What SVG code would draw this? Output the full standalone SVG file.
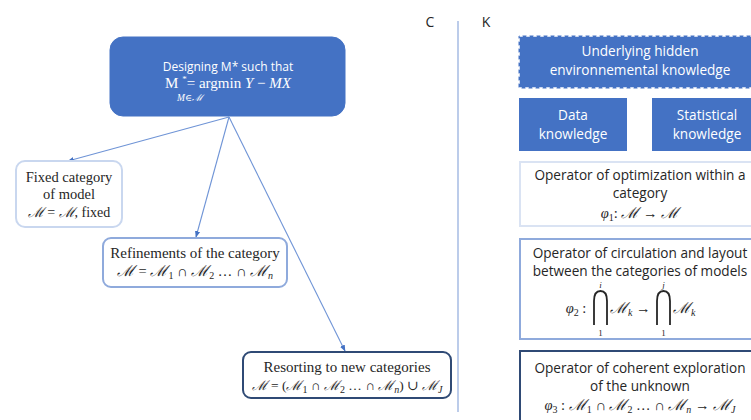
<svg xmlns="http://www.w3.org/2000/svg" width="751" height="420" viewBox="0 0 751 420">
<defs>
<marker id="ah" viewBox="0 0 10 10" refX="9" refY="5" markerWidth="6" markerHeight="6" orient="auto">
<path d="M0,1 L10,5 L0,9 z" fill="#4472C4"/>
</marker>
</defs>
<style>
.sans{font-family:"Open Sans","Noto Sans","DejaVu Sans",sans-serif;}
.serif{font-family:"Liberation Serif","DejaVu Serif",serif;}
.math{font-family:"Liberation Serif","DejaVu Serif",serif;font-style:italic;}
.scr{font-family:"DejaVu Serif","Liberation Serif",serif;font-style:italic;font-size:1.05em;}
.scr1{font-size:1em;}
.blue{fill:#4472C4;}
.wt{fill:#ffffff;}
.dk{fill:#262626;}
.conn{stroke:#6F94D6;stroke-width:1.1;fill:none;marker-end:url(#ah);}
</style>
<rect width="751" height="420" fill="#ffffff"/>

<g id="labels">
<text x="430" y="27" class="sans dk" font-size="14" text-anchor="middle">C</text>
<text x="486" y="27" class="sans dk" font-size="14" text-anchor="middle">K</text>
<line x1="458" y1="21" x2="458" y2="412" stroke="#8FAADC" stroke-width="1.2"/>
</g>

<g id="connectors">
<line class="conn" x1="229" y1="117" x2="68" y2="161"/>
<line class="conn" x1="229" y1="117" x2="196" y2="237"/>
<line class="conn" x1="229" y1="117" x2="345" y2="351"/>
</g>

<g id="design">
<rect x="110" y="37" width="235" height="79" rx="13" class="blue" stroke="#4472C4"/>
<text x="228" y="71" class="sans wt" font-size="12" text-anchor="middle">Designing M* such that</text>
<text x="228" y="88" class="serif wt" font-size="15" text-anchor="middle">M <tspan font-size="9" dy="-6">*</tspan><tspan dy="6">= argmin </tspan><tspan font-style="italic">Y</tspan> − <tspan font-style="italic">MX</tspan></text>
<text x="190" y="101" class="math wt" font-size="9.5" text-anchor="middle">M∈ℳ</text>
</g>

<g id="fixed">
<rect x="16" y="161" width="106" height="66" rx="9" fill="#ffffff" stroke="#C9D7EF" stroke-width="2"/>
<text x="69" y="182" class="serif dk" font-size="14.5" text-anchor="middle">Fixed category</text>
<text x="69" y="199" class="serif dk" font-size="14.5" text-anchor="middle">of model</text>
<text x="69" y="217" class="serif dk" font-size="14" text-anchor="middle"><tspan class="scr scr1">ℳ</tspan> = <tspan class="scr scr1">ℳ</tspan>, fixed</text>
</g>

<g id="refinements">
<rect x="103" y="238" width="184" height="49" rx="8" fill="#ffffff" stroke="#8FAADC" stroke-width="2"/>
<text x="195" y="258" class="serif dk" font-size="15" text-anchor="middle">Refinements of the category</text>
<text x="195" y="276" class="serif dk" font-size="14.5" text-anchor="middle"><tspan class="scr">ℳ</tspan> = <tspan class="scr">ℳ</tspan><tspan font-size="10" dy="3">1</tspan><tspan dy="-3"> ∩ </tspan><tspan class="scr">ℳ</tspan><tspan font-size="10" dy="3">2</tspan><tspan dy="-3"> … ∩ </tspan><tspan class="scr">ℳ</tspan><tspan font-size="10" dy="3" font-style="italic">n</tspan></text>
</g>

<g id="resorting">
<rect x="243" y="352" width="208" height="46" rx="8" fill="#ffffff" stroke="#2F4A75" stroke-width="2"/>
<text x="347" y="372" class="serif dk" font-size="15" text-anchor="middle">Resorting to new categories</text>
<text x="347" y="390" class="serif dk" font-size="13.5" text-anchor="middle"><tspan class="scr scr1">ℳ</tspan> = (<tspan class="scr scr1">ℳ</tspan><tspan font-size="10" dy="3">1</tspan><tspan dy="-3"> ∩ </tspan><tspan class="scr scr1">ℳ</tspan><tspan font-size="10" dy="3">2</tspan><tspan dy="-3"> … ∩ </tspan><tspan class="scr scr1">ℳ</tspan><tspan font-size="10" dy="3" font-style="italic">n</tspan><tspan dy="-3">) ∪ </tspan><tspan class="scr scr1">ℳ</tspan><tspan font-size="10" dy="3" font-style="italic">J</tspan></text>
</g>

<g id="hidden">
<rect x="519" y="36" width="245" height="52" class="blue" stroke="#ffffff" stroke-width="1.5" stroke-dasharray="4,3"/>
<rect x="519" y="36" width="245" height="52" fill="none" stroke="#4472C4" stroke-width="1" stroke-dasharray="4,3" stroke-dashoffset="3.5"/>
<text x="640" y="56" class="sans wt" font-size="13.6" text-anchor="middle">Underlying hidden</text>
<text x="640" y="75" class="sans wt" font-size="13.6" text-anchor="middle">environnemental knowledge</text>
</g>

<g id="data">
<rect x="519" y="98" width="108" height="53" class="blue"/>
<text x="573" y="120" class="sans wt" font-size="13.6" text-anchor="middle">Data</text>
<text x="573" y="139" class="sans wt" font-size="13.6" text-anchor="middle">knowledge</text>
</g>

<g id="statistical">
<rect x="652" y="98" width="110" height="53" class="blue"/>
<text x="707" y="120" class="sans wt" font-size="13.6" text-anchor="middle">Statistical</text>
<text x="707" y="139" class="sans wt" font-size="13.6" text-anchor="middle">knowledge</text>
</g>

<g id="optimization">
<rect x="520" y="162" width="245" height="64" fill="#ffffff" stroke="#DAE3F3" stroke-width="2"/>
<text x="640" y="180" class="sans dk" font-size="13.6" text-anchor="middle">Operator of optimization within a</text>
<text x="640" y="198" class="sans dk" font-size="13.6" text-anchor="middle">category</text>
<text x="640" y="218" class="serif dk" font-size="14.5" text-anchor="middle"><tspan font-style="italic">φ</tspan><tspan font-size="10" dy="3">1</tspan><tspan dy="-3">: </tspan><tspan class="scr">ℳ</tspan> → <tspan class="scr">ℳ</tspan></text>
</g>

<g id="circulation">
<rect x="520" y="239" width="245" height="100" fill="#ffffff" stroke="#8FAADC" stroke-width="2"/>
<text x="640" y="258" class="sans dk" font-size="13.6" text-anchor="middle">Operator of circulation and layout</text>
<text x="640" y="276" class="sans dk" font-size="13.6" text-anchor="middle">between the categories of models</text>
<text x="576" y="313" class="serif dk" font-size="14.5" text-anchor="middle"><tspan font-style="italic">φ</tspan><tspan font-size="10" dy="3">2</tspan><tspan dy="-3"> :</tspan></text>
<path d="M594,325 V301 Q594,291 600.5,291 Q607,291 607,301 V325" fill="none" stroke="#262626" stroke-width="1.8"/>
<text x="600.5" y="288" class="math dk" font-size="9" text-anchor="middle">i</text>
<text x="600.5" y="336" class="serif dk" font-size="9" text-anchor="middle">1</text>
<text x="610" y="313" class="serif dk" font-size="14.5"><tspan class="scr">ℳ</tspan><tspan font-size="10" dy="3" font-style="italic">k</tspan><tspan dy="-3"> →</tspan></text>
<path d="M657,325 V301 Q657,291 663.5,291 Q670,291 670,301 V325" fill="none" stroke="#262626" stroke-width="1.8"/>
<text x="663.5" y="288" class="math dk" font-size="9" text-anchor="middle">j</text>
<text x="663.5" y="336" class="serif dk" font-size="9" text-anchor="middle">1</text>
<text x="673" y="313" class="serif dk" font-size="14.5"><tspan class="scr">ℳ</tspan><tspan font-size="10" dy="3" font-style="italic">k</tspan></text>
</g>

<g id="exploration">
<rect x="520" y="351" width="245" height="80" fill="#ffffff" stroke="#2F4A75" stroke-width="2"/>
<text x="640" y="373" class="sans dk" font-size="13.6" text-anchor="middle">Operator of coherent exploration</text>
<text x="640" y="391" class="sans dk" font-size="13.6" text-anchor="middle">of the unknown</text>
<text x="640" y="410" class="serif dk" font-size="14.5" text-anchor="middle"><tspan font-style="italic">φ</tspan><tspan font-size="10" dy="3">3</tspan><tspan dy="-3"> : </tspan><tspan class="scr">ℳ</tspan><tspan font-size="10" dy="3">1</tspan><tspan dy="-3"> ∩ </tspan><tspan class="scr">ℳ</tspan><tspan font-size="10" dy="3">2</tspan><tspan dy="-3"> … ∩ </tspan><tspan class="scr">ℳ</tspan><tspan font-size="10" dy="3" font-style="italic">n</tspan><tspan dy="-3"> → </tspan><tspan class="scr">ℳ</tspan><tspan font-size="10" dy="3" font-style="italic">J</tspan></text>
</g>
</svg>
